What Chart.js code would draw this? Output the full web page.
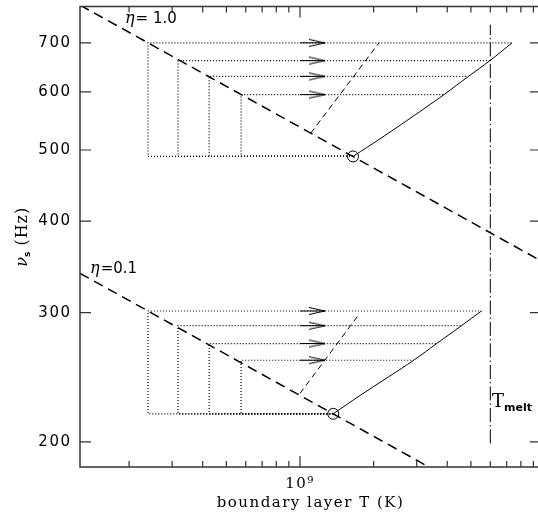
<!DOCTYPE html>
<html><head><meta charset="utf-8">
<style>html,body{margin:0;padding:0;overflow:hidden;background:#fff;width:538px;height:518px}
canvas{display:block}</style>
<script src="https://cdn.jsdelivr.net/npm/chart.js@4/dist/chart.umd.min.js"></script>
</head><body>
<canvas id="c" width="548" height="518"></canvas>
<script>
// ---------------- data ----------------
const xRange = [1.26e8, 9.67e9];
const yRange = [184.8, 784.6];
const yTickValues = [200, 300, 400, 500, 600, 700];
const xTickValues = [2e8,3e8,4e8,5e8,6e8,7e8,8e8,9e8,1e9,2e9,3e9,4e9,5e9,6e9,7e9,8e9,9e9];
const xMajorTick = 1e9;
const xTickLabel = '10⁹';

// eta dashed lines (nu_s vs T)
const etaHighT = [1.26e8, 9.67e9];
const etaHighNu = [788, 353];
const etaLowT = [1.26e8, 9.67e9];
const etaLowNu = [339.5, 152];

// common starting temperatures of the dotted tracks
const startT = [2.39e8, 3.17e8, 4.25e8, 5.74e8];

// eta = 1.0 group
const highLevels = [700, 662, 630, 595];
const highBase = 490;
const highCircleT = 1.647e9;
const highEndT = [7.36e9, 5.98e9, 4.881e9, 3.879e9];
const highCurveT = [1.647e9, 2.124e9, 2.816e9, 3.879e9, 4.881e9, 5.98e9, 7.36e9];
const highCurveNu = [490, 517.9, 552.1, 595, 630, 662, 700];
const highSlowT = [1.106e9, 2.104e9];
const highSlowNu = [527, 700];

// eta = 0.1 group
const lowLevels = [301.6, 288, 272.3, 258.4];
const lowBase = 218.4;
const lowCircleT = 1.368e9;
const lowEndT = [5.52e9, 4.57e9, 3.622e9, 2.916e9];
const lowCurveT = [1.368e9, 1.759e9, 2.333e9, 2.916e9, 3.622e9, 4.57e9, 5.52e9];
const lowCurveNu = [218.4, 231.3, 246.0, 258.4, 272.3, 288, 301.6];
const lowSlowT = [1.0e9, 1.731e9];
const lowSlowNu = [232.8, 297.6];

// arrows and melting temperature
const arrowT = [1.0e9, 1.265e9];
const tMelt = 6.0e9;
const tMeltNu = [199, 741];

// text anchors (data coords)
const etaHighLabel = {T: 1.925e8, nu: 745, text: '= 1.0'};
const etaLowLabel = {T: 1.385e8, nu: 339.4, text: '=0.1'};
const tMeltLabel = {T: 6.1e9, nu: 223};

// ---------------- helpers ----------------
const pts = (xs, ys) => xs.map((x, i) => ({x, y: ys[i]}));
function line(data, opts) {
  return Object.assign({data, borderColor: '#000', borderWidth: 1, pointRadius: 0,
    fill: false, showLine: true, tension: 0}, opts);
}
function makeArrowHead() {
  const c = document.createElement('canvas');
  c.width = 34; c.height = 10;
  const g = c.getContext('2d');
  g.strokeStyle = '#000'; g.lineWidth = 1;
  g.beginPath(); g.moveTo(1, 1.5); g.lineTo(17, 5); g.lineTo(1, 8.5); g.stroke();
  return c;
}
const arrowHead = makeArrowHead();

const datasets = [];
// eta lines
datasets.push(line(pts(etaHighT, etaHighNu), {borderWidth: 1.5, borderDash: [10, 6]}));
datasets.push(line(pts(etaLowT, etaLowNu), {borderWidth: 1.5, borderDash: [10, 6]}));
// dotted tracks
function tracks(levels, base, circleT, endT) {
  levels.forEach((L, i) => {
    datasets.push(line(pts([circleT, startT[i], startT[i], endT[i]], [base, base, L, L]),
      {borderDash: [1, 2], borderWidth: 1.2}));
  });
}
tracks(highLevels, highBase, highCircleT, highEndT);
tracks(lowLevels, lowBase, lowCircleT, lowEndT);
// solid curves
datasets.push(line(pts(highCurveT, highCurveNu), {tension: 0.4}));
datasets.push(line(pts(lowCurveT, lowCurveNu), {tension: 0.4}));
// thin dashed
datasets.push(line(pts(highSlowT, highSlowNu), {borderDash: [6, 4]}));
datasets.push(line(pts(lowSlowT, lowSlowNu), {borderDash: [6, 4]}));
// arrows
[...highLevels, ...lowLevels].forEach(L => {
  datasets.push(line(pts(arrowT, [L, L]), {
    pointStyle: arrowHead,
    pointRadius: c => c.dataIndex === 1 ? 5 : 0
  }));
});
// T melt
datasets.push(line(pts([tMelt, tMelt], tMeltNu), {borderDash: [14, 3, 1.5, 3]}));
// circles
datasets.push(line(pts([highCircleT], [highBase]), {showLine: false, pointRadius: 5.5,
  pointStyle: 'circle', pointBackgroundColor: 'rgba(0,0,0,0)', pointBorderColor: '#000', pointBorderWidth: 1}));
datasets.push(line(pts([lowCircleT], [lowBase]), {showLine: false, pointRadius: 5.5,
  pointStyle: 'circle', pointBackgroundColor: 'rgba(0,0,0,0)', pointBorderColor: '#000', pointBorderWidth: 1}));

// ---------------- plugins ----------------
const spacing = {
  id: 'spacing',
  beforeDraw(chart) { chart.ctx.letterSpacing = '1.5px'; },
  afterDraw(chart) { chart.ctx.letterSpacing = '0px'; }
};
const frame = {
  id: 'frame',
  afterDatasetsDraw(chart) {
    const {ctx, chartArea: a, scales: {x, y}} = chart;
    ctx.save();
    ctx.letterSpacing = '0px';
    ctx.strokeStyle = '#333'; ctx.lineWidth = 1.5; ctx.setLineDash([]);
    ctx.strokeRect(a.left, a.top, a.right - a.left, a.bottom - a.top);
    ctx.lineWidth = 1.2;
    ctx.beginPath();
    yTickValues.forEach(v => {
      const p = y.getPixelForValue(v);
      ctx.moveTo(a.left, p); ctx.lineTo(a.left + 11, p);
      ctx.moveTo(a.right, p); ctx.lineTo(a.right - 11, p);
    });
    xTickValues.forEach(v => {
      const p = x.getPixelForValue(v);
      const L = v === xMajorTick ? 11 : 6;
      ctx.moveTo(p, a.bottom); ctx.lineTo(p, a.bottom - L);
      ctx.moveTo(p, a.top); ctx.lineTo(p, a.top + L);
    });
    ctx.stroke();

    ctx.fillStyle = '#000';
    ctx.textBaseline = 'alphabetic';
    ctx.textAlign = 'left';
    // eta labels
    [etaHighLabel, etaLowLabel].forEach(lb => {
      const px = x.getPixelForValue(lb.T), py = y.getPixelForValue(lb.nu);
      ctx.font = 'italic 16px "DejaVu Serif"';
      ctx.fillText('η', px, py);
      const w = ctx.measureText('η').width;
      ctx.font = '15px "DejaVu Sans"';
      ctx.fillText(lb.text, px + w + 1, py);
    });
    // T_melt label
    {
      const px = x.getPixelForValue(tMeltLabel.T), py = y.getPixelForValue(tMeltLabel.nu);
      ctx.font = '18px "DejaVu Serif"';
      ctx.fillText('T', px, py);
      const w = ctx.measureText('T').width;
      ctx.font = 'bold 11px "DejaVu Sans"';
      ctx.fillText('melt', px + w, py + 4);
    }
    // y axis title
    {
      const cy = (a.top + a.bottom) / 2;
      ctx.translate(20, cy);
      ctx.rotate(-Math.PI / 2);
      ctx.font = 'italic 16px "DejaVu Serif"';
      const w1 = ctx.measureText('ν').width;
      ctx.font = 'bold 9px "DejaVu Sans"';
      const w2 = ctx.measureText('s').width;
      ctx.font = '16px "DejaVu Serif"';
      ctx.letterSpacing = '1px';
      const w3 = ctx.measureText(' (Hz)').width;
      let sx = -(w1 + w2 + w3) / 2;
      ctx.letterSpacing = '0px';
      ctx.font = 'italic 16px "DejaVu Serif"';
      ctx.fillText('ν', sx, 6.5); sx += w1;
      ctx.font = 'bold 9px "DejaVu Sans"';
      ctx.fillText('s', sx, 10); sx += w2;
      ctx.font = '16px "DejaVu Serif"';
      ctx.letterSpacing = '1px';
      ctx.fillText(' (Hz)', sx, 6.5);
    }
    ctx.restore();
  }
};

Chart.defaults.font.family = '"DejaVu Sans"';
Chart.defaults.color = '#000';

new Chart(document.getElementById('c'), {
  type: 'line',
  data: {datasets},
  options: {
    responsive: false,
    animation: false,
    events: [],
    layout: {padding: {left: 0, right: 7, top: 6, bottom: 0}},
    plugins: {legend: {display: false}, tooltip: {enabled: false}},
    scales: {
      x: {
        type: 'logarithmic', position: 'bottom',
        min: xRange[0], max: xRange[1],
        grid: {display: false, drawTicks: false}, border: {display: false},
        afterBuildTicks: s => { s.ticks = xTickValues.map(v => ({value: v})); },
        afterFit: s => { s.height = 51; s.paddingLeft = 0; s.paddingRight = 0; },
        ticks: {
          autoSkip: false, maxRotation: 0, padding: 8,
          font: {family: '"DejaVu Serif"', size: 15},
          callback: v => v === xMajorTick ? xTickLabel : ''
        },
        title: {display: true, text: 'boundary layer T (K)',
          font: {family: '"DejaVu Serif"', size: 15}, padding: {top: 0, bottom: 6}}
      },
      y: {
        type: 'logarithmic', position: 'left',
        min: yRange[0], max: yRange[1],
        grid: {display: false, drawTicks: false}, border: {display: false},
        afterBuildTicks: s => { s.ticks = yTickValues.map(v => ({value: v})); },
        afterFit: s => { s.width = 80; s.paddingTop = 0; s.paddingBottom = 0; },
        ticks: {autoSkip: false, padding: 8.5, font: {family: '"DejaVu Sans"', size: 15},
          callback: v => String(v)}
      }
    }
  },
  plugins: [spacing, frame]
});
</script>
</body></html>
